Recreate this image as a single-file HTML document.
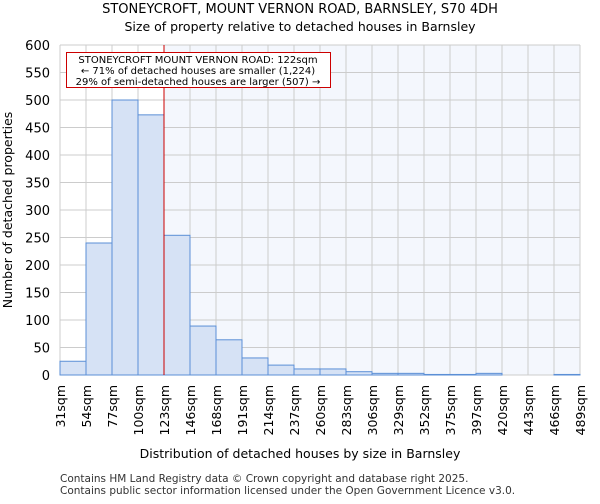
<!DOCTYPE html>
<html><head><meta charset="utf-8"><style>
body{margin:0;background:#fff;font-family:"DejaVu Sans","Liberation Sans",sans-serif;}
</style></head><body>
<svg id="chart" width="600" height="500" xmlns="http://www.w3.org/2000/svg" font-family="DejaVu Sans, Liberation Sans, sans-serif">
<text x="300" y="13" text-anchor="middle" font-size="13">STONEYCROFT, MOUNT VERNON ROAD, BARNSLEY, S70 4DH</text>
<text x="300" y="31" text-anchor="middle" font-size="12.5">Size of property relative to detached houses in Barnsley</text>
<g id="plot"></g>
<text x="300" y="458" text-anchor="middle" font-size="12.5">Distribution of detached houses by size in Barnsley</text>
<text transform="translate(12,210) rotate(-90)" text-anchor="middle" font-size="12.5">Number of detached properties</text>
<text x="60" y="482" font-size="10.5" fill="#333">Contains HM Land Registry data © Crown copyright and database right 2025.</text>
<text x="60" y="494" font-size="10.5" fill="#333">Contains public sector information licensed under the Open Government Licence v3.0.</text>
</svg>
<script>
const binLabels=["31sqm","54sqm","77sqm","100sqm","123sqm","146sqm","168sqm","191sqm","214sqm","237sqm","260sqm","283sqm","306sqm","329sqm","352sqm","375sqm","397sqm","420sqm","443sqm","466sqm","489sqm"];
const counts=[25,240,500,473,254,89,64,31,18,11,11,6,3,3,1,1,3,0,0,1];
const yTicks=[0,50,100,150,200,250,300,350,400,450,500,550,600];
const markerIndex=4;
const NS="http://www.w3.org/2000/svg";
const g=document.getElementById("plot");
const L=60,R=580,T=45,B=375,yMax=600;
const bw=(R-L)/counts.length;
const x=i=>L+i*bw;
const y=v=>B-(v/yMax)*(B-T);
function mk(t,a){const e=document.createElementNS(NS,t);for(const k in a)e.setAttribute(k,a[k]);g.appendChild(e);return e;}
let e;
e=mk("rect",{x:L,y:T,width:R-L,height:B-T,fill:"#fff"});


e=mk("rect",{x:x(markerIndex),y:T,width:R-x(markerIndex),height:B-T,fill:"#f4f7fd"});


yTicks.forEach(v=>{
 e=mk("line",{x1:L,x2:R,y1:y(v),y2:y(v),stroke:"#ccc","stroke-width":1});
 
 
 e=mk("text",{x:L-10,y:y(v)+5,"text-anchor":"end","font-size":13});
 e.textContent=v;
 
 
});
binLabels.forEach((l,i)=>{
 e=mk("line",{x1:x(i),x2:x(i),y1:T,y2:B,stroke:"#ccc","stroke-width":1});
 
 
 e=mk("text",{transform:`translate(${x(i)+5},${B+10}) rotate(-90)`,"text-anchor":"end","font-size":12.5});
 e.textContent=l;
 
 
});
counts.forEach((c,i)=>{
 if(c<=0)return;
 e=mk("rect",{x:x(i),y:y(c),width:bw,height:B-y(c),fill:"#d6e2f5",stroke:"#5b8fd6","stroke-width":1});
 
 
});
e=mk("line",{x1:x(markerIndex),x2:x(markerIndex),y1:T,y2:B,stroke:"#cc0000","stroke-width":1});


e=mk("rect",{x:66.5,y:52.5,width:264,height:35,fill:"#fff",stroke:"#cc0000","stroke-width":1});


["STONEYCROFT MOUNT VERNON ROAD: 122sqm","← 71% of detached houses are smaller (1,224)","29% of semi-detached houses are larger (507) →"].forEach((t,i)=>{
 e=mk("text",{x:198,y:63+i*11,"text-anchor":"middle","font-size":10});
 e.textContent=t;
 
 
});
</script>
</body></html>
